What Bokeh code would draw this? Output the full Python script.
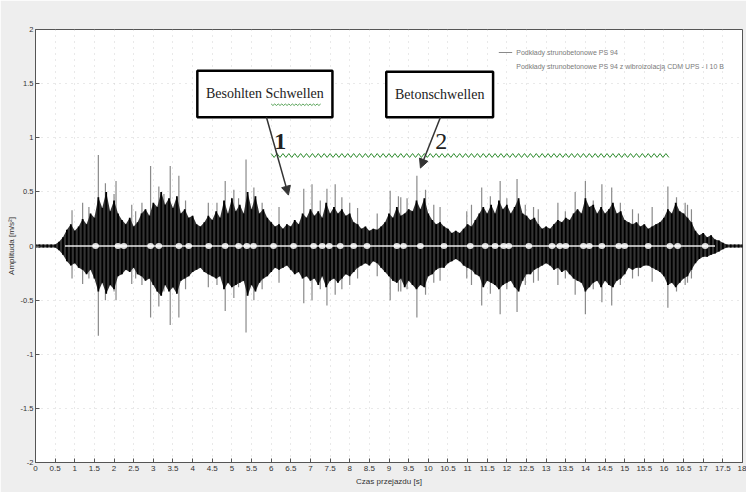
import numpy as np
from bokeh.plotting import figure
from bokeh.models import (FixedTicker, Range1d, Arrow, NormalHead,
                          Legend, LegendItem, CustomJSTickFormatter)
from bokeh.core.properties import value
from bokeh.embed import file_html
from bokeh.resources import INLINE

# ---------------- data ----------------
# sample times of the envelope [s]
t_grid = [round(0.1 * i, 1) for i in range(181)]

# dense (dark) part of the signal, positive side [m/s^2]
core_top = [
    0.015, 0.015, 0.015, 0.015, 0.015, 0.015, 0.04, 0.08, 0.15, 0.2,
    0.14, 0.18, 0.25, 0.2, 0.3, 0.26, 0.45, 0.35, 0.5, 0.32,
    0.42, 0.3, 0.24, 0.2, 0.26, 0.18, 0.22, 0.3, 0.34, 0.28,
    0.4, 0.36, 0.5, 0.38, 0.44, 0.35, 0.46, 0.3, 0.34, 0.26,
    0.28, 0.2, 0.18, 0.22, 0.28, 0.24, 0.32, 0.26, 0.42, 0.3,
    0.44, 0.32, 0.38, 0.3, 0.5, 0.34, 0.46, 0.3, 0.34, 0.26,
    0.22, 0.18, 0.2, 0.16, 0.2, 0.18, 0.24, 0.2, 0.3, 0.26,
    0.34, 0.28, 0.32, 0.26, 0.4, 0.3, 0.36, 0.3, 0.34, 0.28,
    0.3, 0.22, 0.2, 0.16, 0.18, 0.14, 0.16, 0.15, 0.18, 0.22,
    0.3, 0.26, 0.36, 0.28, 0.3, 0.34, 0.32, 0.42, 0.34, 0.44,
    0.3, 0.24, 0.2, 0.22, 0.18, 0.16, 0.12, 0.14, 0.12, 0.16,
    0.2, 0.18, 0.24, 0.3, 0.36, 0.3, 0.38, 0.3, 0.42, 0.34,
    0.38, 0.3, 0.36, 0.44, 0.3, 0.28, 0.24, 0.26, 0.2, 0.16,
    0.18, 0.16, 0.2, 0.24, 0.22, 0.26, 0.24, 0.3, 0.34, 0.3,
    0.44, 0.36, 0.38, 0.3, 0.36, 0.3, 0.34, 0.4, 0.3, 0.32,
    0.24, 0.22, 0.2, 0.22, 0.18, 0.2, 0.16, 0.18, 0.2, 0.22,
    0.26, 0.34, 0.3, 0.4, 0.32, 0.3, 0.26, 0.22, 0.14, 0.1,
    0.12, 0.08, 0.1, 0.06, 0.05, 0.03, 0.015, 0.015, 0.015, 0.015,
    0.015]

# dense (dark) part of the signal, negative side [m/s^2]
core_bottom = [
    -0.015, -0.015, -0.015, -0.015, -0.015, -0.015, -0.04, -0.08, -0.14, -0.18,
    -0.16, -0.2, -0.22, -0.26, -0.22, -0.3, -0.42, -0.34, -0.44, -0.36,
    -0.4, -0.28, -0.26, -0.22, -0.24, -0.2, -0.26, -0.28, -0.32, -0.3,
    -0.36, -0.42, -0.46, -0.36, -0.42, -0.38, -0.44, -0.32, -0.3, -0.28,
    -0.24, -0.22, -0.2, -0.24, -0.26, -0.28, -0.3, -0.28, -0.4, -0.34,
    -0.38, -0.36, -0.34, -0.32, -0.46, -0.36, -0.42, -0.34, -0.3, -0.28,
    -0.24, -0.2, -0.22, -0.2, -0.18, -0.22, -0.26, -0.24, -0.3, -0.28,
    -0.32, -0.3, -0.36, -0.28, -0.38, -0.32, -0.3, -0.34, -0.3, -0.26,
    -0.28, -0.24, -0.2, -0.18, -0.16, -0.18, -0.14, -0.16, -0.2, -0.24,
    -0.28, -0.32, -0.34, -0.3, -0.38, -0.32, -0.36, -0.4, -0.36, -0.38,
    -0.28, -0.26, -0.22, -0.2, -0.2, -0.16, -0.14, -0.12, -0.14, -0.18,
    -0.2, -0.22, -0.26, -0.28, -0.38, -0.32, -0.34, -0.36, -0.4, -0.36,
    -0.34, -0.32, -0.38, -0.42, -0.32, -0.26, -0.26, -0.22, -0.2, -0.18,
    -0.16, -0.18, -0.22, -0.2, -0.24, -0.22, -0.26, -0.3, -0.32, -0.34,
    -0.42, -0.38, -0.34, -0.32, -0.38, -0.32, -0.36, -0.38, -0.32, -0.3,
    -0.26, -0.2, -0.22, -0.2, -0.2, -0.18, -0.18, -0.2, -0.22, -0.24,
    -0.28, -0.36, -0.34, -0.38, -0.34, -0.3, -0.28, -0.22, -0.16, -0.12,
    -0.1, -0.1, -0.08, -0.07, -0.05, -0.03, -0.015, -0.015, -0.015, -0.015,
    -0.015]

# isolated peaks of the signal (thin grey lines)
peak_t = [0.93, 1.2, 1.36, 1.6, 1.78, 2.0, 2.05, 2.45, 2.55, 2.71, 2.93, 3.14,
          3.27, 3.43, 3.65, 3.82, 4.4, 4.62, 4.83, 5.05, 5.17, 5.36, 5.56, 5.77,
          6.2, 6.83, 7.04, 7.25, 7.42, 7.63, 7.8, 8.0, 8.2, 8.7, 9.03, 9.24,
          9.3, 9.46, 9.71, 9.93, 10.14, 10.3, 10.98, 11.1, 11.36, 11.58, 11.83,
          12.0, 12.26, 12.47, 12.68, 12.8, 13.3, 13.49, 13.74, 14.0, 14.2,
          14.42, 14.67, 14.89, 15.2, 15.35, 15.7, 16.1, 16.32, 16.54, 16.6, 16.7]
peak_max = [0.33, 0.4, 0.36, 0.84, 0.58, 0.48, 0.6, 0.38, 0.32, 0.4, 0.74, 0.55,
            0.48, 0.74, 0.65, 0.42, 0.4, 0.4, 0.6, 0.52, 0.44, 0.8, 0.54, 0.4,
            0.36, 0.53, 0.57, 0.42, 0.53, 0.57, 0.45, 0.4, 0.35, 0.3, 0.51, 0.46,
            0.45, 0.44, 0.65, 0.52, 0.38, 0.36, 0.32, 0.38, 0.54, 0.46, 0.6,
            0.44, 0.62, 0.38, 0.36, 0.34, 0.4, 0.32, 0.5, 0.6, 0.42,
            0.57, 0.54, 0.4, 0.34, 0.3, 0.36, 0.55, 0.45, 0.4, 0.38, 0.34]
peak_min = [-0.3, -0.35, -0.3, -0.83, -0.5, -0.42, -0.5, -0.35, -0.3, -0.36, -0.66, -0.56,
            -0.42, -0.73, -0.66, -0.4, -0.38, -0.36, -0.6, -0.48, -0.38, -0.8, -0.5, -0.4,
            -0.34, -0.53, -0.5, -0.4, -0.55, -0.45, -0.4, -0.36, -0.3, -0.28, -0.5, -0.42,
            -0.42, -0.4, -0.66, -0.45, -0.34, -0.32, -0.3, -0.36, -0.55, -0.44, -0.63,
            -0.4, -0.61, -0.36, -0.34, -0.32, -0.36, -0.3, -0.45, -0.63, -0.4,
            -0.52, -0.55, -0.36, -0.3, -0.28, -0.33, -0.57, -0.42, -0.36, -0.34, -0.3]

# second (vibro-isolated) series: a light trace around zero
iso_t = [0.75, 17.3]
iso_v = [0.0, 0.0]
iso_blob_t = [1.53, 2.1, 2.25, 2.93, 3.14, 3.65, 3.9, 4.41, 4.83, 5.17, 5.38, 5.55,
              6.06, 6.57, 7.08, 7.3, 7.48, 7.76, 8.1, 8.44, 9.2, 9.37, 9.8, 10.4,
              11.07, 11.45, 11.7, 11.92, 12.05, 12.56, 13.15, 13.35, 13.5, 13.95,
              14.1, 14.42, 14.85, 15.0, 15.6, 16.15, 16.35, 17.05]
iso_blob_v = [0.0] * len(iso_blob_t)

x_ticks = [0.5 * i for i in range(37)]
y_ticks = [-2, -1.5, -1, -0.5, 0, 0.5, 1, 1.5, 2]

legend_labels = ["Podkłady strunobetonowe PS 94",
                 "Podkłady strunobetonowe PS 94 z wibroizolacją CDM UPS - I 10 B"]

# ---------------- figure ----------------
p = figure(width=746, height=492, output_backend="svg", toolbar_location=None,
           x_range=Range1d(0, 18), y_range=Range1d(-2, 2),
           min_border_left=35, min_border_right=4, min_border_top=29,
           min_border_bottom=30)
p.border_fill_color = "#eeeeee"
p.background_fill_color = "white"
p.outline_line_color = "#555555"
p.outline_line_width = 1

fmt = CustomJSTickFormatter(code="return tick.toString();")
for ax, ticks in ((p.xaxis[0], x_ticks), (p.yaxis[0], y_ticks)):
    ax.ticker = FixedTicker(ticks=ticks)
    ax.formatter = fmt
    ax.major_tick_in = 4
    ax.major_tick_out = 0
    ax.minor_tick_line_color = None
    ax.axis_line_color = "#555555"
    ax.major_tick_line_color = "#555555"
    ax.major_label_text_color = "#333333"
    ax.major_label_text_font = "Liberation Sans"
    ax.axis_label_text_font = "Liberation Sans"
    ax.axis_label_text_font_style = "normal"
    ax.axis_label_text_font_size = "8px"
    ax.axis_label_text_color = "#333333"

p.xaxis.axis_label = "Czas przejazdu [s]"
p.yaxis.axis_label = "Amplituda [m/s²]"
p.xaxis.major_label_text_font_size = "8px"
p.yaxis.major_label_text_font_size = "7.5px"
p.xaxis.major_label_standoff = 3
p.xaxis.axis_label_standoff = 3
p.yaxis.major_label_standoff = 2
p.yaxis.axis_label_standoff = 2

for g, ticks in ((p.xgrid[0], x_ticks), (p.ygrid[0], y_ticks)):
    g.ticker = FixedTicker(ticks=ticks)
    g.grid_line_color = "#c8c8c8"
    g.grid_line_dash = "1 5"
    g.grid_line_alpha = 0.8

# peaks first, dense core on top of them
peaks_r = p.segment(x0=peak_t, y0=peak_min, x1=peak_t, y1=peak_max,
                    line_color="#8a8a8a", line_width=1.2)
p.varea(x=t_grid, y1=core_bottom, y2=core_top, fill_color="#333333")
p.segment(x0=t_grid, y0=core_bottom, x1=t_grid, y1=core_top,
          line_color="#000000", line_width=1.8)

# second series: light trace around zero
iso_r = p.line(iso_t, iso_v, line_color="white", line_width=1.6, line_alpha=0.9)
p.ellipse(x=iso_blob_t, y=iso_blob_v, width=0.17, height=0.055,
          fill_color="white", fill_alpha=0.85, line_color=None)

# legend
legend = Legend(items=[LegendItem(label=legend_labels[0], renderers=[peaks_r]),
                       LegendItem(label=legend_labels[1], renderers=[iso_r])],
                location="top_right", border_line_color=None,
                background_fill_alpha=0, label_text_font_size="7px",
                label_text_color="#7a7a7a", label_text_font="Liberation Sans",
                glyph_width=14, glyph_height=10, label_height=10, spacing=4,
                padding=0, margin=18, label_standoff=4)
p.add_layout(legend)

# green wavy line (annotation)
zx = np.arange(6.0, 16.16, 0.075)
zy = np.where(np.arange(len(zx)) % 2 == 0, 0.854, 0.818)
p.line(zx, zy, line_color="#2e8b2e", line_width=1)

# callout boxes
p.quad(left=[4.12, 8.93], right=[7.56, 11.65], bottom=[1.19, 1.19],
       top=[1.62, 1.61], fill_color="white", line_color="black", line_width=2.5)
p.text(x=[5.84, 10.29], y=[1.405, 1.40], text=["Besohlten Schwellen", "Betonschwellen"],
       text_font=value("Liberation Serif"), text_font_size="14px",
       text_color="#222222", text_align="center", text_baseline="middle")
sx = np.arange(6.0, 7.3, 0.045)
sy = np.where(np.arange(len(sx)) % 2 == 0, 1.312, 1.298)
p.line(sx, sy, line_color="#2e8b2e", line_width=0.8)

p.add_layout(Arrow(end=NormalHead(size=9, fill_color="#333333", line_color="#333333"),
                   x_start=5.88, y_start=1.19, x_end=6.44, y_end=0.47,
                   line_color="#333333", line_width=1.5))
p.add_layout(Arrow(end=NormalHead(size=9, fill_color="#333333", line_color="#333333"),
                   x_start=10.31, y_start=1.19, x_end=9.80, y_end=0.72,
                   line_color="#333333", line_width=1.5))

p.text(x=[6.23], y=[0.965], text=["1"], text_font=value("Liberation Serif"),
       text_font_size="24px", text_font_style="bold", text_color="#222222",
       text_align="center", text_baseline="middle")
p.text(x=[10.33], y=[0.965], text=["2"], text_font=value("Liberation Serif"),
       text_font_size="24px", text_color="#222222",
       text_align="center", text_baseline="middle")

open("out.html", "w").write(file_html(p, INLINE))
